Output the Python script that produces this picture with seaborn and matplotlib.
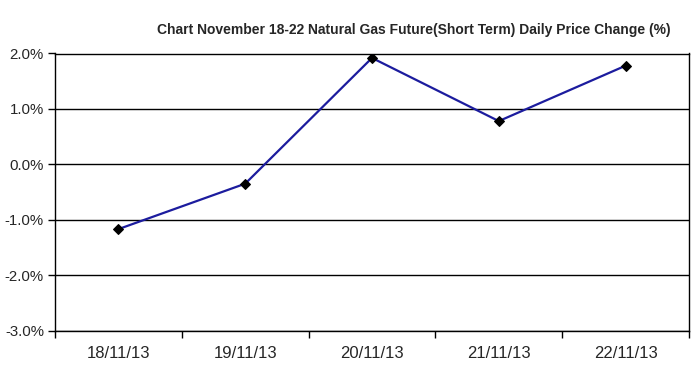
import matplotlib
matplotlib.use('Agg')
import matplotlib.pyplot as plt
import seaborn as sns
import numpy as np
import pandas as pd
from matplotlib.ticker import FixedLocator, FuncFormatter

dates = ['18/11/13', '19/11/13', '20/11/13', '21/11/13', '22/11/13']
change = [-1.17, -0.35, 1.92, 0.78, 1.78]
yticks = [-3, -2, -1, 0, 1, 2]

df = pd.DataFrame({'date': dates, 'change': change})

sns.set_style('white')
plt.rcParams['font.family'] = ['Liberation Sans', 'DejaVu Sans']
narrow = ['Liberation Sans Narrow', 'Liberation Sans', 'DejaVu Sans']

fig = plt.figure(figsize=(6.97, 3.78), dpi=100)
ax = fig.add_axes([55/697, 1 - 330.5/378, 634/697, 277/378])

sns.lineplot(data=df, x='date', y='change', ax=ax, color='#1c1c9e', linewidth=1.6,
             marker='D', markersize=5, markerfacecolor='black', markeredgecolor='black',
             sort=False)

ax.set_xlim(-0.5, len(dates) - 0.5)
ax.set_ylim(-3, 2)
ax.set_yticks(yticks)
ax.yaxis.set_major_formatter(FuncFormatter(lambda v, p: f'{v:.1f}%'))
ax.yaxis.grid(True, color='black', linewidth=1)
ax.set_axisbelow(True)

ax.set_xticks(range(len(dates)))
ax.set_xticklabels(dates, fontfamily=narrow, fontsize=12)
ax.tick_params(axis='x', which='major', length=0, pad=11)
ax.xaxis.set_minor_locator(FixedLocator(np.arange(-0.5, len(dates), 1)))
ax.tick_params(axis='x', which='minor', length=5, width=1, color='black', direction='out', bottom=True)
ax.tick_params(axis='y', length=5, width=1, color='black', direction='out', left=True, labelsize=10.8, pad=3)

for s in ax.spines.values():
    s.set_color('black')
    s.set_linewidth(1)

ax.set_xlabel('')
ax.set_ylabel('')
fig.text(414/697, 1 - 30/378, 'Chart November 18-22 Natural Gas Future(Short Term) Daily Price Change (%)',
         ha='center', va='center', fontsize=10, fontweight='bold', family=narrow)

fig.savefig('out.png', dpi=100)
